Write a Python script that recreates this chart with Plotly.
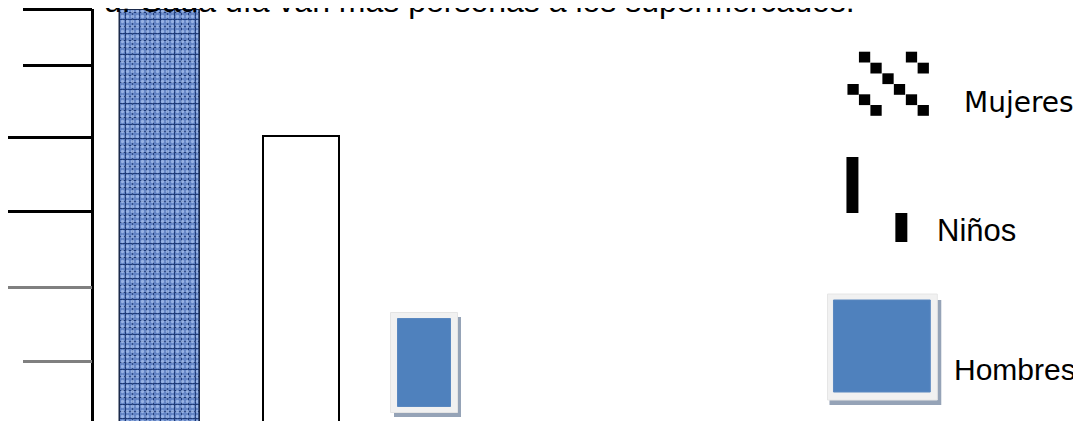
import plotly.graph_objects as go

# ---------------- data ----------------
categorias = ["Mujeres", "Niños", "Hombres"]
valores = [411, 285, 108]          # bar heights (axis units)
ticks_largos_negros = [284, 210]
ticks_cortos_negros = [411.5, 356]
ticks_largos_grises = [134]
ticks_cortos_grises = [60]
titulo = "d. Cada día van más personas a los supermercados."

# ---------------- layout constants ----------------
W, H = 1081, 421
OFF = 8                      # page body margin offset
X_CENTROS = [158, 299.5, 423.5]
ANCHOS = [80, 77, 67]
AZUL = "#4F81BD"
Y_MAX = 412


def px(x):
    return (x - OFF) / W


def py(y):
    return 1 - (y - OFF) / H


fig = go.Figure()

# Bar 1 (Mujeres) textured blue
fig.add_trace(go.Bar(
    x=[X_CENTROS[0]], y=[valores[0] + 4], base=-4, width=ANCHOS[0],
    name=categorias[0],
    marker=dict(color="#5A7DBF",
                line=dict(color="#1B2A4A", width=1.5),
                pattern=dict(shape="+", fillmode="replace", bgcolor="#6283C4",
                             fgcolor="#1F3B78", size=7, solidity=0.28)),
    xaxis="x", yaxis="y", showlegend=False, hoverinfo="skip"))
fig.add_trace(go.Bar(
    x=[X_CENTROS[0]], y=[valores[0] + 4], base=-4, width=ANCHOS[0] - 3,
    marker=dict(color="rgba(0,0,0,0)", line=dict(width=0),
                pattern=dict(shape=".", fillmode="overlay",
                             fgcolor="#A9C3F0", size=5, solidity=0.35, fgopacity=0.75)),
    xaxis="x", yaxis="y", showlegend=False, hoverinfo="skip"))

# Bar 2 (Niños) white with black outline
fig.add_trace(go.Bar(
    x=[X_CENTROS[1]], y=[valores[1] + 4], base=-4, width=ANCHOS[1],
    name=categorias[1],
    marker=dict(color="white", line=dict(color="black", width=2)),
    xaxis="x", yaxis="y", showlegend=False, hoverinfo="skip"))

# Bar 3 (Hombres) framed blue box: shadow, frame, inner
v3 = valores[2]
fig.add_trace(go.Bar(
    x=[X_CENTROS[2] + 3], y=[v3 - 8], base=4, width=ANCHOS[2],
    marker=dict(color="#95A3B7", line=dict(width=0)),
    xaxis="x", yaxis="y", showlegend=False, hoverinfo="skip"))
fig.add_trace(go.Bar(
    x=[X_CENTROS[2]], y=[v3 - 8], base=8, width=ANCHOS[2],
    marker=dict(color="#F1F1F1", line=dict(color="#E4E4E4", width=1)),
    xaxis="x", yaxis="y", showlegend=False, hoverinfo="skip"))
fig.add_trace(go.Bar(
    x=[X_CENTROS[2]], y=[v3 - 20], base=14, width=ANCHOS[2] - 14,
    name=categorias[2],
    marker=dict(color=AZUL, line=dict(color="#5A88C0", width=1)),
    xaxis="x", yaxis="y", showlegend=False, hoverinfo="skip"))

# dummy traces so overlay axes are drawn
for ax in ["y2", "y3", "y4"]:
    fig.add_trace(go.Scatter(x=[None], y=[None], xaxis="x", yaxis=ax,
                             showlegend=False, hoverinfo="skip"))

dom = [OFF / H, (OFF + Y_MAX) / H]
pos = px(90)
common = dict(range=[0, Y_MAX], showgrid=False, zeroline=False,
              showticklabels=False, ticks="outside", anchor="free",
              position=pos, fixedrange=True)

fig.update_layout(
    width=W, height=H,
    margin=dict(l=0, r=0, t=0, b=0),
    paper_bgcolor="white", plot_bgcolor="rgba(0,0,0,0)",
    barmode="overlay", bargap=0,
    xaxis=dict(range=[OFF, W + OFF], domain=[0, 1], visible=False, anchor="y",
               fixedrange=True),
    yaxis=dict(domain=dom, showline=True, linecolor="black", linewidth=3,
               tickvals=ticks_largos_negros, ticklen=84, tickwidth=3,
               tickcolor="black", **common),
    yaxis2=dict(overlaying="y", showline=False,
                tickvals=ticks_cortos_negros, ticklen=69, tickwidth=3,
                tickcolor="black", **common),
    yaxis3=dict(overlaying="y", showline=False,
                tickvals=ticks_largos_grises, ticklen=84, tickwidth=3,
                tickcolor="#808080", **common),
    yaxis4=dict(overlaying="y", showline=False,
                tickvals=ticks_cortos_grises, ticklen=69, tickwidth=3,
                tickcolor="#808080", **common),
    showlegend=False,
)

# Title (partly cut at top)
fig.add_annotation(text=titulo, xref="paper", yref="paper",
                   x=px(100), y=py(21), xanchor="left", yanchor="bottom",
                   showarrow=False,
                   font=dict(family="Liberation Sans, Arial", size=32, color="black"))

# ---------------- legend (drawn manually) ----------------
shapes = []
# Mujeres pattern of squares
cols = [847, 858.5, 870, 882, 893.5, 905.5, 917.3]
rows = [51.7, 62.7, 73.3, 84, 94.3, 105]
celdas = [(0, 1), (0, 5), (1, 2), (1, 6), (2, 3), (3, 0), (3, 4),
          (4, 1), (4, 5), (5, 2), (5, 6)]
for r, c in celdas:
    x0 = cols[c]
    y0 = rows[r]
    shapes.append(dict(type="rect", xref="paper", yref="paper",
                       x0=px(x0), x1=px(x0 + 11.3), y0=py(y0), y1=py(y0 + 10.8),
                       fillcolor="black", line=dict(width=0)))
# Niños: two black bars
shapes.append(dict(type="rect", xref="paper", yref="paper",
                   x0=px(846), x1=px(858), y0=py(157), y1=py(213),
                   fillcolor="black", line=dict(width=0)))
shapes.append(dict(type="rect", xref="paper", yref="paper",
                   x0=px(895), x1=px(907), y0=py(213), y1=py(242),
                   fillcolor="black", line=dict(width=0)))
# Hombres: framed blue square with shadow
shapes.append(dict(type="rect", xref="paper", yref="paper",
                   x0=px(829), x1=px(941), y0=py(300), y1=py(405),
                   fillcolor="#95A3B7", line=dict(width=0)))
shapes.append(dict(type="rect", xref="paper", yref="paper",
                   x0=px(827), x1=px(937), y0=py(294), y1=py(400),
                   fillcolor="#F1F1F1", line=dict(color="#E6E6E6", width=1)))
shapes.append(dict(type="rect", xref="paper", yref="paper",
                   x0=px(833), x1=px(930), y0=py(300), y1=py(392),
                   fillcolor=AZUL, line=dict(color="#5A88C0", width=1)))
fig.update_layout(shapes=shapes)

leyenda = [
    (categorias[0], 962, 114, "DejaVu Sans, Verdana", 28),
    (categorias[1], 935, 242, "Liberation Sans, Arial", 31),
    (categorias[2], 952, 380, "Liberation Sans, Arial", 30),
]
for texto, x, base, fam, size in leyenda:
    fig.add_annotation(text=texto, xref="paper", yref="paper",
                       x=px(x), y=py(base + 0.22 * size + 1),
                       xanchor="left", yanchor="bottom", showarrow=False,
                       font=dict(family=fam, size=size, color="black"))

fig.write_html("out.html")
